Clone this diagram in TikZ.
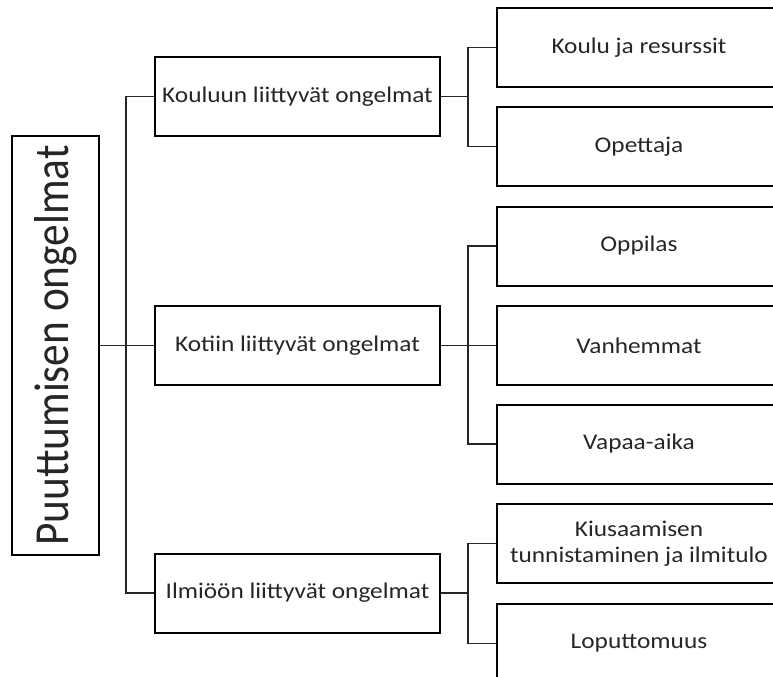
\documentclass[tikz,border=0pt]{standalone}
\usepackage{fontspec}
\setmainfont{Carlito}
\newfontfamily\widefont{Carlito}[FakeStretch=1.13]
\usepackage{tikz}
\usetikzlibrary{positioning,calc}
\definecolor{txtgray}{HTML}{262626}
\tikzstyle{mainbox} = [rectangle, draw, line width=2bp, minimum width=419bp, minimum height=87bp, inner sep=0pt, rotate=90, text=txtgray, font=\fontsize{43.5}{50}\selectfont]
\tikzstyle{topic} = [rectangle, draw, line width=2bp, minimum width=285bp, minimum height=79bp, inner sep=0pt, text=txtgray, align=center, font=\widefont\fontsize{22.5}{26}\selectfont]
\tikzstyle{leaf} = [rectangle, draw, line width=2bp, minimum width=284bp, minimum height=79bp, inner sep=0pt, text=txtgray, align=center, font=\widefont\fontsize{22.5}{26}\selectfont]
\tikzstyle{line} = [draw, line width=1.6bp, black!85]

\begin{document}
\begin{tikzpicture}[x=1bp, y=-1bp]
	\useasboundingbox (0,0) rectangle (773,677);
	%Place nodes
	\node [mainbox] (Main) at (55.5,345.5) {\scalebox{1}[1.13]{Puuttumisen ongelmat}};
	\node [topic] (Kouluun) at (297.5,96.5) {Kouluun liittyvät ongelmat};
	\node [topic] (Kotiin) at (297.5,345.5) {Kotiin liittyvät ongelmat};
	\node [topic] (Ilmioon) at (297.5,593) {Ilmiöön liittyvät ongelmat};

	\node [leaf] (Koulu) at (639,47.5) {Koulu ja resurssit};
	\node [leaf] (Opettaja) at (639,146.5) {Opettaja};
	\node [leaf] (Oppilas) at (639,246) {Oppilas};
	\node [leaf] (Vanhemmat) at (639,345.5) {Vanhemmat};
	\node [leaf] (Vapaa) at (639,444) {Vapaa-aika};
	\node [leaf] (Kiusaaminen) at (639,543.5) {Kiusaamisen\\tunnistaminen ja ilmitulo};
	\node [leaf] (Loputtomuus) at (639,643.5) {Loputtomuus};

	%Branch points
	\coordinate (trunk) at (126,345.5);
	\coordinate (kbranch) at (468,96.5);
	\coordinate (hbranch) at (468,345.5);
	\coordinate (ibranch) at (468,593);

	%Connectors
	\path [line] (Main) -- (Kotiin);
	\path [line] (Kouluun.west) -| (trunk) |- (Ilmioon.west);

	\path [line] (Kouluun) -- (kbranch);
	\path [line] (Koulu.west) -| (kbranch) |- (Opettaja.west);

	\path [line] (Kotiin) -- (Vanhemmat);
	\path [line] (Oppilas.west) -| (hbranch) |- (Vapaa.west);

	\path [line] (Ilmioon) -- (ibranch);
	\path [line] (Kiusaaminen.west) -| (ibranch) |- (Loputtomuus.west);
\end{tikzpicture}
\end{document}
